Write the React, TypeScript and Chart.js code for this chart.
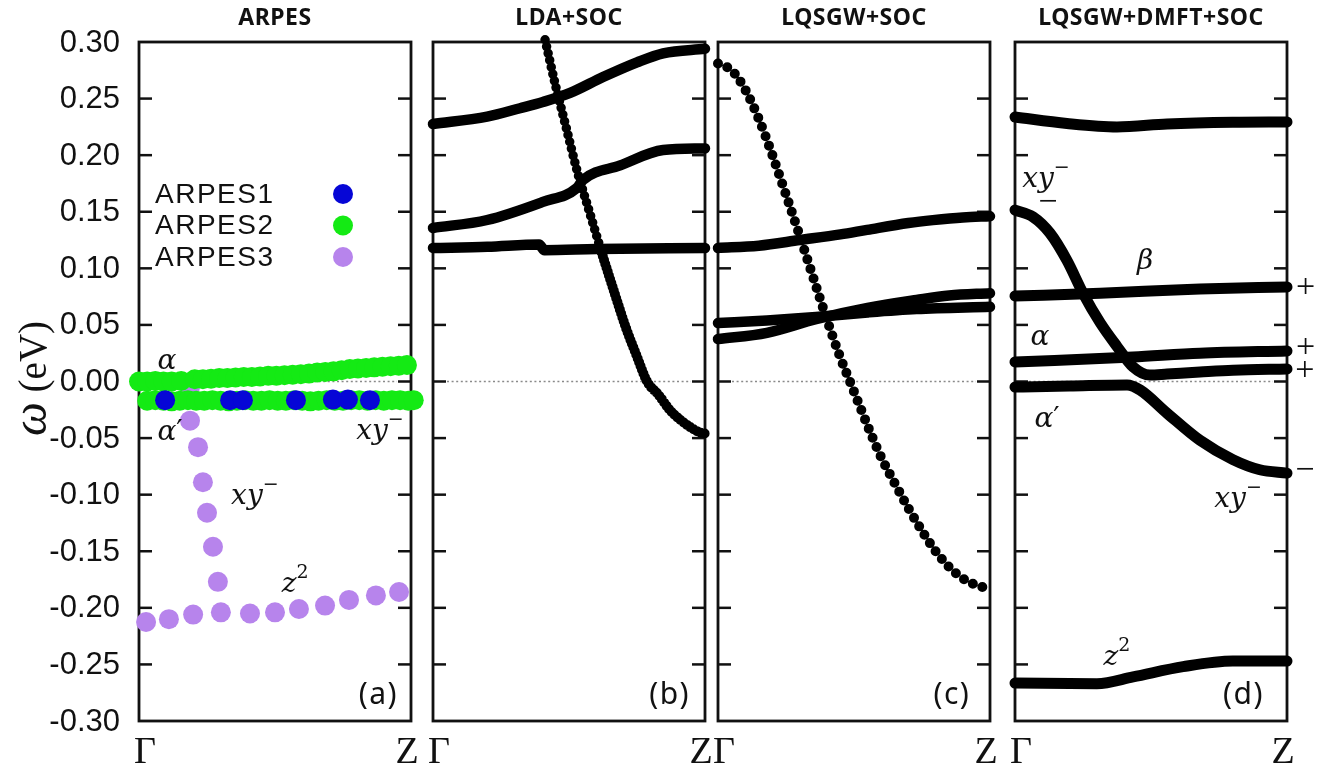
import React, { useEffect, useRef } from 'react';
import { Chart, registerables } from 'chart.js';

Chart.register(...registerables);

// ---------------- text / tick data ----------------
const panelTitles = ['ARPES', 'LDA+SOC', 'LQSGW+SOC', 'LQSGW+DMFT+SOC'];
const panelTags = ['(a)', '(b)', '(c)', '(d)'];
const kPointLabels = ['Γ', 'Z'];
const yTickValues = [0.3, 0.25, 0.2, 0.15, 0.1, 0.05, 0, -0.05, -0.1, -0.15, -0.2, -0.25, -0.3];
const yTickLabels = ['0.30', '0.25', '0.20', '0.15', '0.10', '0.05', '0.00', '-0.05', '-0.10', '-0.15', '-0.20', '-0.25', '-0.30'];
const yAxisSymbol = 'ω';
const yAxisUnit = ' (eV)';
const legendLabels = ['ARPES1', 'ARPES2', 'ARPES3'];

// ---------------- (a) ARPES ----------------
const arpes1K = [0.096, 0.335, 0.382, 0.577, 0.713, 0.768, 0.849];
const arpes1E = [-0.0165, -0.0165, -0.0165, -0.0165, -0.016, -0.016, -0.0165];

const arpes2UpperK = [0.0, 0.03, 0.06, 0.09, 0.12, 0.155, 0.205, 0.235, 0.265, 0.295, 0.325, 0.355, 0.385, 0.415, 0.445, 0.475, 0.505, 0.535, 0.565, 0.595, 0.625, 0.655, 0.685, 0.715, 0.745, 0.775, 0.805, 0.835, 0.865, 0.895, 0.925, 0.955, 0.985];
const arpes2UpperE = [0.0, 0.0, 0.0005, 0.0, 0.0, 0.0005, 0.002, 0.002, 0.0025, 0.003, 0.003, 0.0035, 0.004, 0.004, 0.0045, 0.005, 0.005, 0.0055, 0.006, 0.0065, 0.007, 0.008, 0.0085, 0.009, 0.010, 0.011, 0.0115, 0.012, 0.0125, 0.013, 0.0135, 0.014, 0.0145];
const arpes2LowerK = [0.03, 0.06, 0.09, 0.12, 0.15, 0.18, 0.21, 0.24, 0.27, 0.30, 0.33, 0.36, 0.39, 0.42, 0.45, 0.48, 0.51, 0.54, 0.57, 0.60, 0.63, 0.66, 0.69, 0.72, 0.75, 0.78, 0.81, 0.84, 0.87, 0.90, 0.93, 0.96, 0.99, 1.01];
const arpes2LowerE = [-0.017, -0.0165, -0.017, -0.0175, -0.017, -0.0165, -0.017, -0.017, -0.0165, -0.017, -0.0175, -0.017, -0.0165, -0.017, -0.017, -0.0165, -0.017, -0.017, -0.0165, -0.017, -0.0175, -0.017, -0.0165, -0.017, -0.017, -0.0165, -0.0165, -0.017, -0.0165, -0.017, -0.0165, -0.0165, -0.017, -0.0165];

const arpes3K = [0.1875, 0.1875, 0.217, 0.235, 0.25, 0.272, 0.29, 0.026, 0.11, 0.199, 0.301, 0.408, 0.5, 0.588, 0.684, 0.772, 0.871, 0.956];
const arpes3E = [-0.005, -0.0346, -0.058, -0.089, -0.116, -0.146, -0.177, -0.2125, -0.21, -0.206, -0.204, -0.205, -0.204, -0.201, -0.198, -0.193, -0.189, -0.186];

// ---------------- (b) LDA+SOC ----------------
const ldaBand1K = [0, 0.199, 0.32, 0.404, 0.504, 0.625, 0.75, 0.846, 1.0];
const ldaBand1E = [0.2275, 0.234, 0.2415, 0.247, 0.255, 0.269, 0.282, 0.290, 0.294];
const ldaBand2K = [0, 0.199, 0.404, 0.529, 0.551, 0.688, 0.846, 1.0];
const ldaBand2E = [0.1357, 0.1427, 0.1587, 0.171, 0.178, 0.191, 0.2045, 0.206];
const ldaBand3K = [0, 0.2, 0.39, 0.41, 0.6, 1.0];
const ldaBand3E = [0.118, 0.119, 0.121, 0.116, 0.117, 0.118];
// steep band: sparse (dotted-looking) upper part and dense lower part
const ldaSteepUpperK = [0.412, 0.45, 0.49, 0.53, 0.575, 0.62];
const ldaSteepUpperE = [0.302, 0.262, 0.224, 0.186, 0.150, 0.114];
const ldaSteepLowerK = [0.62, 0.665, 0.71, 0.75, 0.787, 0.83, 0.87, 0.91, 0.95, 0.98, 1.0];
const ldaSteepLowerE = [0.114, 0.080, 0.047, 0.022, 0.0, -0.012, -0.025, -0.034, -0.041, -0.045, -0.046];

// ---------------- (c) LQSGW+SOC ----------------
const gwSteepK = [0, 0.05, 0.10, 0.15, 0.20, 0.25, 0.30, 0.35, 0.40, 0.45, 0.485, 0.52, 0.56, 0.60, 0.65, 0.70, 0.75, 0.80, 0.85, 0.90, 0.95, 1.0];
const gwSteepE = [0.281, 0.275, 0.258, 0.232, 0.200, 0.165, 0.129, 0.092, 0.055, 0.021, 0.0, -0.021, -0.045, -0.067, -0.090, -0.112, -0.132, -0.150, -0.164, -0.174, -0.180, -0.183];
const gwBand1K = [0, 0.15, 0.301, 0.45, 0.548, 0.7, 0.79, 0.9, 1.0];
const gwBand1E = [0.118, 0.120, 0.125, 0.130, 0.134, 0.140, 0.1426, 0.145, 0.146];
const gwBand2K = [0, 0.18, 0.36, 0.55, 0.73, 1.0];
const gwBand2E = [0.0517, 0.054, 0.057, 0.061, 0.064, 0.066];
const gwBand3K = [0, 0.18, 0.36, 0.55, 0.73, 0.85, 1.0];
const gwBand3E = [0.0375, 0.043, 0.055, 0.065, 0.072, 0.076, 0.078];

// ---------------- (d) LQSGW+DMFT+SOC ----------------
const dmftTopK = [0, 0.191, 0.375, 0.559, 0.8, 1.0];
const dmftTopE = [0.2337, 0.228, 0.225, 0.2275, 0.229, 0.2293];
const dmftXyK = [0, 0.066, 0.129, 0.191, 0.25, 0.313, 0.375, 0.434, 0.496, 0.559, 0.68, 0.801, 1.0];
const dmftXyE = [0.1515, 0.1455, 0.131, 0.107, 0.078, 0.052, 0.031, 0.013, 0.0057, 0.0066, 0.0084, 0.010, 0.011];
const dmftBetaK = [0, 0.313, 0.68, 1.0];
const dmftBetaE = [0.0755, 0.078, 0.0817, 0.0835];
const dmftAlphaK = [0, 0.434, 0.68, 1.0];
const dmftAlphaE = [0.0172, 0.0217, 0.025, 0.027];
const dmftAlphaPK = [0, 0.2, 0.412, 0.46, 0.559, 0.68, 0.801, 0.9, 1.0];
const dmftAlphaPE = [-0.0049, -0.004, -0.003, -0.0075, -0.028, -0.052, -0.069, -0.078, -0.081];
const dmftZ2K = [0, 0.301, 0.434, 0.618, 0.801, 1.0];
const dmftZ2E = [-0.2665, -0.267, -0.261, -0.252, -0.247, -0.247];

// ---------------- annotations (data coordinates) ----------------
type Part = { t: string; it?: boolean; sup?: boolean };
type Note = { k: number; e: number; parts: Part[] };
const XY: Part[] = [{ t: 'xy', it: true }, { t: '−', sup: true }];
const Z2: Part[] = [{ t: 'z', it: true }, { t: '2', sup: true }];
const ALPHA: Part[] = [{ t: 'α', it: true }];
const ALPHAP: Part[] = [{ t: 'α', it: true }, { t: '′' }];
const BETA: Part[] = [{ t: 'β', it: true }];
const notesA: Note[] = [
  { k: 0.103, e: 0.0172, parts: ALPHA },
  { k: 0.114, e: -0.0455, parts: ALPHAP },
  { k: 0.886, e: -0.0446, parts: XY },
  { k: 0.426, e: -0.102, parts: XY },
  { k: 0.574, e: -0.18, parts: Z2 },
];
const notesD: Note[] = [
  { k: 0.114, e: 0.178, parts: XY },
  { k: 0.121, e: 0.158, parts: [{ t: '−' }] },
  { k: 0.478, e: 0.1056, parts: BETA },
  { k: 0.092, e: 0.0384, parts: ALPHA },
  { k: 0.118, e: -0.034, parts: ALPHAP },
  { k: 0.82, e: -0.1047, parts: XY },
  { k: 0.375, e: -0.2444, parts: Z2 },
  { k: 1.068, e: 0.0826, parts: [{ t: '+' }] },
  { k: 1.068, e: 0.0296, parts: [{ t: '+' }] },
  { k: 1.066, e: 0.0093, parts: [{ t: '+' }] },
  { k: 1.066, e: -0.079, parts: [{ t: '−' }] },
];
const notesByPanel: Note[][] = [notesA, [], [], notesD];

// ---------------- layout ----------------
const W = 1335;
const H = 771;
const PLOT_TOP = 42;
const PLOT_BOTTOM = 721;
const panelLeft = [139, 433, 718, 1015];
const panelRight = [411, 705, 990, 1287];
const tagK = [0.88, 0.87, 0.86, 0.84];

const BLUE = '#0606d6';
const GREEN = '#14ea14';
const PURPLE = '#b784ec';

const zip = (k: number[], e: number[]) => k.map((v, i) => ({ x: v, y: e[i] }));

function pointsDs(label: string, k: number[], e: number[], color: string) {
  return {
    label,
    data: zip(k, e),
    showLine: false,
    pointRadius: 10,
    pointBorderWidth: 0,
    pointBackgroundColor: color,
    backgroundColor: color,
    borderColor: color,
    clip: false,
  };
}

function bandDs(k: number[], e: number[], dotGap = 0, width = 10.5) {
  return {
    data: zip(k, e),
    showLine: true,
    borderColor: '#000',
    borderWidth: width,
    borderDash: dotGap ? [0, dotGap] : [],
    borderCapStyle: 'round',
    borderJoinStyle: 'round',
    pointRadius: 0,
    cubicInterpolationMode: 'monotone',
    fill: false,
    clip: false,
  };
}

const datasetsByPanel = [
  [
    pointsDs(legendLabels[0], arpes1K, arpes1E, BLUE),
    pointsDs(legendLabels[1], arpes2UpperK, arpes2UpperE, GREEN),
    pointsDs(legendLabels[1], arpes2LowerK, arpes2LowerE, GREEN),
    pointsDs(legendLabels[2], arpes3K, arpes3E, PURPLE),
  ],
  [
    bandDs(ldaBand1K, ldaBand1E),
    bandDs(ldaBand2K, ldaBand2E),
    bandDs(ldaBand3K, ldaBand3E),
    bandDs(ldaSteepUpperK, ldaSteepUpperE, 7, 9.5),
    bandDs(ldaSteepLowerK, ldaSteepLowerE, 4, 10),
  ],
  [
    bandDs(gwBand1K, gwBand1E),
    bandDs(gwBand2K, gwBand2E),
    bandDs(gwBand3K, gwBand3E),
    bandDs(gwSteepK, gwSteepE, 10, 10),
  ],
  [
    bandDs(dmftTopK, dmftTopE, 0, 11),
    bandDs(dmftXyK, dmftXyE, 0, 11),
    bandDs(dmftBetaK, dmftBetaE, 0, 11),
    bandDs(dmftAlphaK, dmftAlphaE, 0, 11),
    bandDs(dmftAlphaPK, dmftAlphaPE, 0, 11),
    bandDs(dmftZ2K, dmftZ2E, 0, 11),
  ],
];

function drawRich(ctx: CanvasRenderingContext2D, parts: Part[], cx: number, cy: number, size: number, family: string) {
  const fontOf = (p: Part) => `${p.it ? 'italic ' : ''}${p.sup ? Math.round(size * 0.68) : size}px ${family}`;
  let total = 0;
  const ws = parts.map((p) => {
    ctx.font = fontOf(p);
    const w = ctx.measureText(p.t).width;
    total += w;
    return w;
  });
  let xp = cx - total / 2;
  ctx.textAlign = 'left';
  ctx.textBaseline = 'middle';
  parts.forEach((p, i) => {
    ctx.font = fontOf(p);
    ctx.fillText(p.t, xp, cy - (p.sup ? size * 0.42 : 0));
    xp += ws[i];
  });
}

function line(ctx: CanvasRenderingContext2D, x1: number, y1: number, x2: number, y2: number) {
  ctx.beginPath();
  ctx.moveTo(x1, y1);
  ctx.lineTo(x2, y2);
  ctx.stroke();
}

function makePlugin(idx: number) {
  return {
    id: 'panelDecor' + idx,
    beforeDatasetsDraw(chart: any) {
      const { ctx, chartArea, scales } = chart;
      const { left, right, top, bottom } = chartArea;
      const y = scales.y;
      ctx.save();
      ctx.strokeStyle = '#111';
      ctx.lineWidth = 2.8;
      ctx.strokeRect(left, top, right - left, bottom - top);
      ctx.lineWidth = 2.5;
      yTickValues.forEach((v) => {
        if (Math.abs(v) > 0.29) return;
        const py = y.getPixelForValue(v);
        line(ctx, left, py, left + 13, py);
        line(ctx, right - 13, py, right, py);
      });
      const y0 = y.getPixelForValue(0);
      ctx.setLineDash([2, 2.6]);
      ctx.strokeStyle = '#8a8a8a';
      ctx.lineWidth = 1.5;
      line(ctx, left + 14, y0, right - 14, y0);
      ctx.restore();
    },
    afterDatasetsDraw(chart: any) {
      const { ctx, chartArea, scales } = chart;
      const { left, right, top } = chartArea;
      const x = scales.x;
      const y = scales.y;
      ctx.save();
      ctx.fillStyle = '#111';
      // title
      ctx.font = 'bold 23px "Noto Sans"';
      (ctx as any).letterSpacing = '0.5px';
      ctx.textAlign = 'center';
      ctx.textBaseline = 'alphabetic';
      ctx.fillText(panelTitles[idx], (left + right) / 2, 25);
      // panel tag
      ctx.font = '30px "Noto Sans"';
      (ctx as any).letterSpacing = '1.5px';
      ctx.textBaseline = 'middle';
      ctx.fillText(panelTags[idx], x.getPixelForValue(tagK[idx]), y.getPixelForValue(-0.277));
      (ctx as any).letterSpacing = '0px';
      // k-point labels
      ctx.font = '38px "Liberation Serif"';
      ctx.textBaseline = 'alphabetic';
      ctx.fillText(kPointLabels[0], left + 6, 763);
      ctx.fillText(kPointLabels[1], right - 4, 763);
      if (idx === 0) {
        // y tick labels
        ctx.font = '31px "Liberation Sans"';
        ctx.textAlign = 'right';
        ctx.textBaseline = 'middle';
        yTickValues.forEach((v, i) => {
          ctx.fillText(yTickLabels[i], left - 19, y.getPixelForValue(v) + 1);
        });
        // y axis title
        ctx.save();
        ctx.translate(46, (PLOT_TOP + PLOT_BOTTOM) / 2 - 3);
        ctx.rotate(-Math.PI / 2);
        ctx.textAlign = 'left';
        ctx.textBaseline = 'alphabetic';
        ctx.font = 'italic 48px "Liberation Serif"';
        const w1 = ctx.measureText(yAxisSymbol).width;
        ctx.font = '39px "Liberation Serif"';
        const w2 = ctx.measureText(yAxisUnit).width;
        const sx = -(w1 + w2) / 2;
        ctx.font = 'italic 48px "Liberation Serif"';
        ctx.fillText(yAxisSymbol, sx, 0);
        ctx.font = '39px "Liberation Serif"';
        ctx.fillText(yAxisUnit, sx + w1, 0);
        ctx.restore();
        // legend
        const colors = [BLUE, GREEN, PURPLE];
        ctx.font = '28px "Liberation Sans"';
        (ctx as any).letterSpacing = '1.5px';
        ctx.textAlign = 'left';
        ctx.textBaseline = 'middle';
        legendLabels.forEach((lab, i) => {
          const ly = top + 152 + i * 31.5;
          ctx.fillStyle = '#111';
          ctx.fillText(lab, left + 16, ly + 1);
          ctx.fillStyle = colors[i];
          ctx.beginPath();
          ctx.arc(left + 204, ly, 10, 0, Math.PI * 2);
          ctx.fill();
        });
        (ctx as any).letterSpacing = '0px';
      }
      // annotations
      ctx.fillStyle = '#111';
      notesByPanel[idx].forEach((n) => {
        const isSign = n.parts.length === 1 && (n.parts[0].t === '+' || n.parts[0].t === '−');
        drawRich(ctx, n.parts, x.getPixelForValue(n.k), y.getPixelForValue(n.e), isSign ? 34 : 28, isSign ? '"Liberation Serif"' : '"DejaVu Serif"');
      });
      ctx.restore();
    },
  };
}

function buildConfig(idx: number): any {
  return {
    type: 'line',
    data: { datasets: datasetsByPanel[idx] },
    options: {
      animation: false,
      responsive: false,
      devicePixelRatio: 1,
      events: [],
      layout: {
        padding: { left: panelLeft[idx], right: W - panelRight[idx], top: PLOT_TOP, bottom: H - PLOT_BOTTOM },
      },
      plugins: { legend: { display: false }, tooltip: { enabled: false }, title: { display: false } },
      scales: {
        x: { type: 'linear', min: 0, max: 1, display: false },
        y: { type: 'linear', min: -0.3, max: 0.3, display: false, ticks: { stepSize: 0.05 } },
      },
    },
    plugins: [makePlugin(idx)],
  };
}

export default function App() {
  const r0 = useRef<HTMLCanvasElement>(null);
  const r1 = useRef<HTMLCanvasElement>(null);
  const r2 = useRef<HTMLCanvasElement>(null);
  const r3 = useRef<HTMLCanvasElement>(null);
  const refs = [r0, r1, r2, r3];

  useEffect(() => {
    const charts = refs.map((r, i) => new Chart(r.current as HTMLCanvasElement, buildConfig(i)));
    return () => charts.forEach((c) => c.destroy());
  }, []);

  return (
    <div style={{ position: 'fixed', left: 0, top: 0, width: W, height: H, background: '#fff' }}>
      {refs.map((r, i) => (
        <canvas
          key={i}
          ref={r}
          width={W}
          height={H}
          style={{ position: 'absolute', left: 0, top: 0, width: W, height: H }}
        />
      ))}
    </div>
  );
}
